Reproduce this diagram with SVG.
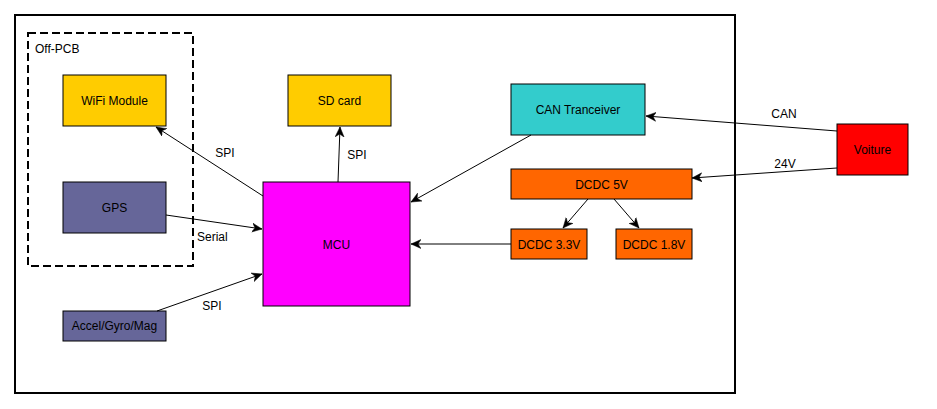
<svg xmlns="http://www.w3.org/2000/svg" width="937" height="409" viewBox="0 0 937 409">
<style>
.box{stroke:#000;stroke-width:1}
.t{font-family:"Liberation Sans",Arial,sans-serif;font-size:12px;fill:#000}
.c{text-anchor:middle;dominant-baseline:central}
.ln{stroke:#000;stroke-width:1;fill:none;marker-end:url(#arr)}
</style>
<defs>
<marker id="arr" markerUnits="userSpaceOnUse" markerWidth="12" markerHeight="10" refX="10" refY="5" orient="auto">
<path d="M0,0.5 L10,5 L0,9.5 L3,5 z" fill="#000" stroke="#000" stroke-width="0.5"/>
</marker>
</defs>
<rect x="0" y="0" width="937" height="409" fill="#fff"/>
<g id="board"><rect x="15" y="15" width="720" height="378" fill="none" stroke="#000" stroke-width="2"/></g>
<g id="offpcb">
<rect x="28" y="33" width="165" height="233" fill="none" stroke="#000" stroke-width="2" stroke-dasharray="8,4"/>
<text class="t" x="35" y="53" font-size="11">Off-PCB</text>
</g>
<g id="wifi"><rect class="box" x="63" y="75" width="103" height="51" fill="#FFCC00"/><text class="t c" x="114.5" y="100.5">WiFi Module</text></g>
<g id="gps"><rect class="box" x="63" y="182" width="103" height="51" fill="#666699"/><text class="t c" x="114.5" y="207.5">GPS</text></g>
<g id="accel"><rect class="box" x="63" y="311" width="103" height="30" fill="#666699"/><text class="t c" x="114.5" y="326">Accel/Gyro/Mag</text></g>
<g id="sdcard"><rect class="box" x="288" y="75" width="103" height="51" fill="#FFCC00"/><text class="t c" x="339.5" y="100.5">SD card</text></g>
<g id="mcu"><rect class="box" x="263" y="182" width="147" height="124" fill="#FF00FF"/><text class="t c" x="336.5" y="245">MCU</text></g>
<g id="can"><rect class="box" x="511" y="84" width="134" height="51" fill="#33CCCC"/><text class="t c" x="578" y="109.5">CAN Tranceiver</text></g>
<g id="dcdc5"><rect class="box" x="511" y="169" width="181" height="30" fill="#FF6600"/><text class="t c" x="601.5" y="184.5">DCDC 5V</text></g>
<g id="dcdc33"><rect class="box" x="511" y="229" width="76" height="30" fill="#FF6600"/><text class="t c" x="549" y="244.5">DCDC 3.3V</text></g>
<g id="dcdc18"><rect class="box" x="616" y="229" width="76" height="30" fill="#FF6600"/><text class="t c" x="654" y="244.5">DCDC 1.8V</text></g>
<g id="voiture"><rect class="box" x="837" y="124" width="71" height="51" fill="#FF0000"/><text class="t c" x="872.5" y="150">Voiture</text></g>
<g id="connectors">
<line class="ln" x1="263" y1="196" x2="156" y2="127"/>
<text class="t c" x="225" y="153">SPI</text>
<line class="ln" x1="338" y1="182" x2="340" y2="127"/>
<text class="t c" x="357" y="155">SPI</text>
<line class="ln" x1="166" y1="215" x2="262" y2="229"/>
<text class="t" x="197" y="241">Serial</text>
<line class="ln" x1="157" y1="311" x2="262" y2="274"/>
<text class="t c" x="212" y="306">SPI</text>
<line class="ln" x1="531" y1="135" x2="411" y2="202"/>
<line class="ln" x1="837" y1="131" x2="646" y2="116"/>
<text class="t c" x="784" y="114">CAN</text>
<line class="ln" x1="837" y1="168" x2="692" y2="178"/>
<text class="t c" x="785" y="164">24V</text>
<line class="ln" x1="588" y1="199" x2="563" y2="228"/>
<line class="ln" x1="614" y1="199" x2="639" y2="228"/>
<line class="ln" x1="511" y1="244" x2="411" y2="244"/>
</g>
</svg>
